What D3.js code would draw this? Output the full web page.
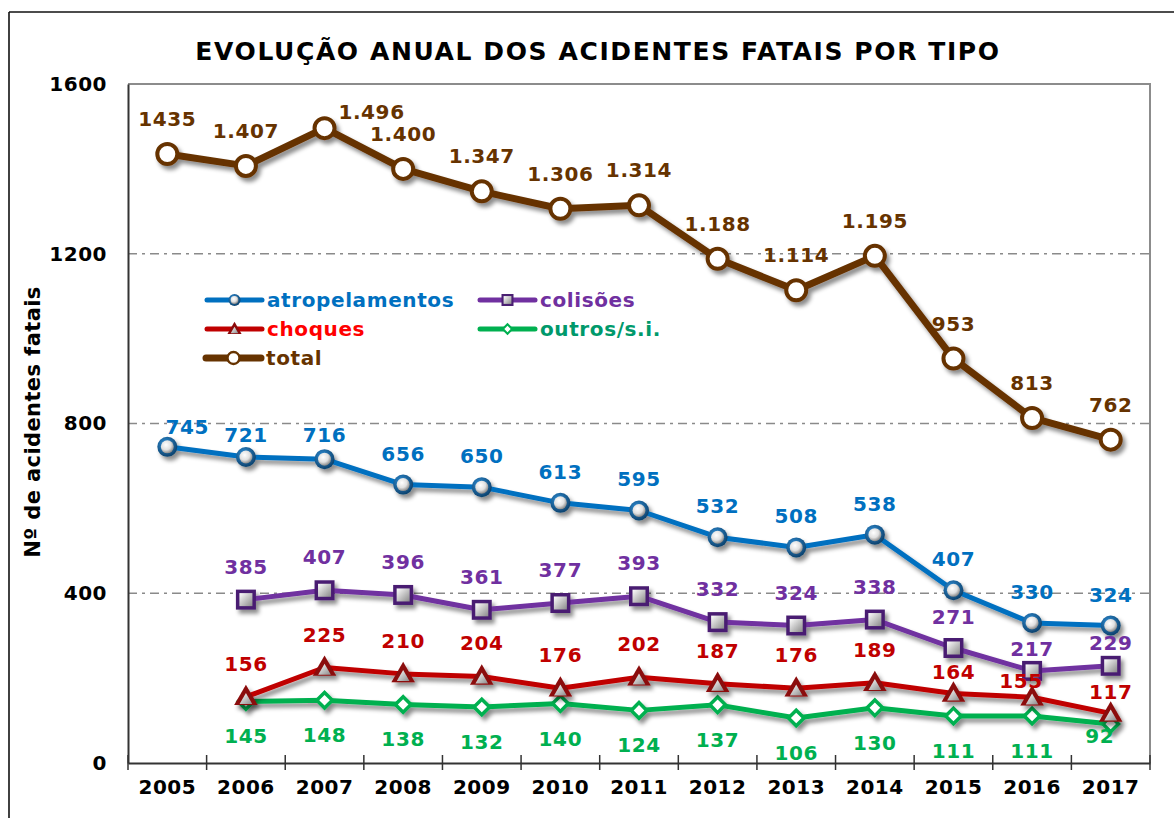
<!DOCTYPE html>
<html><head><meta charset="utf-8">
<script src="https://cdn.jsdelivr.net/npm/d3@7"></script>
<style>
html,body{margin:0;padding:0;background:#fff;}
svg{display:block;font-family:Verdana,"DejaVu Sans",sans-serif;font-weight:bold;}
</style></head>
<body><svg id="chart" width="1174" height="818"></svg>
<script>
// ---------- data ----------
const years = ["2005","2006","2007","2008","2009","2010","2011","2012","2013","2014","2015","2016","2017"];
const yTicks = [0,400,800,1200,1600];
const atropelamentos = [745,721,716,656,650,613,595,532,508,538,407,330,324];
const colisoes = [null,385,407,396,361,377,393,332,324,338,271,217,229];
const choques = [null,156,225,210,204,176,202,187,176,189,164,155,117];
const outros = [null,145,148,138,132,140,124,137,106,130,111,111,92];
const total = [1435,1407,1496,1400,1347,1306,1314,1188,1114,1195,953,813,762];
const totalLabels = ["1435","1.407","1.496","1.400","1.347","1.306","1.314","1.188","1.114","1.195","953","813","762"];
const titleText = "EVOLUÇÃO ANUAL DOS ACIDENTES FATAIS POR TIPO";
const yTitle = "Nº de acidentes fatais";

// ---------- layout ----------
const svg = d3.select("#chart");
const L = 128, R = 1150, T = 84, B = 763;
const x = d3.scaleBand().domain(years).range([L, R]).padding(0);
const cx = d => x(d) + x.bandwidth()/2;
const y = d3.scaleLinear().domain([0,1600]).range([B, T]);

const defs = svg.append("defs");
const f = defs.append("filter").attr("id","shadow").attr("x","-20%").attr("y","-20%").attr("width","140%").attr("height","160%");
f.append("feDropShadow").attr("dx",3).attr("dy",4).attr("stdDeviation",2.2).attr("flood-color","#000").attr("flood-opacity",0.45);

const rg = defs.append("radialGradient").attr("id","sphere").attr("cx","40%").attr("cy","35%").attr("r","70%");
rg.append("stop").attr("offset","0%").attr("stop-color","#ffffff");
rg.append("stop").attr("offset","55%").attr("stop-color","#e0e0e0");
rg.append("stop").attr("offset","100%").attr("stop-color","#7a7a7a");
const lg = defs.append("linearGradient").attr("id","bevel").attr("x1","0").attr("y1","0").attr("x2","1").attr("y2","1");
lg.append("stop").attr("offset","0%").attr("stop-color","#ffffff");
lg.append("stop").attr("offset","100%").attr("stop-color","#8a8a8a");
const rr = defs.append("radialGradient").attr("id","blueRing").attr("cx","40%").attr("cy","35%").attr("r","70%");
rr.append("stop").attr("offset","0%").attr("stop-color","#2f8fd8");
rr.append("stop").attr("offset","100%").attr("stop-color","#0b3d66");

// outer frame
svg.append("line").attr("x1",9).attr("y1",12).attr("x2",1174).attr("y2",12).attr("stroke","#111").attr("stroke-width",1.6);
svg.append("line").attr("x1",9).attr("y1",12).attr("x2",9).attr("y2",818).attr("stroke","#111").attr("stroke-width",1.6);

// title
svg.append("text").attr("x",598).attr("y",51).attr("text-anchor","middle").attr("dominant-baseline","central")
  .attr("font-size",25).attr("letter-spacing",1.6).attr("fill","#000").text(titleText);

// plot border (top/right)
svg.append("path").attr("d",`M${L},${T}H${R}V${B}`).attr("fill","none").attr("stroke","#8c8c8c").attr("stroke-width",2);

// gridlines
svg.append("g").selectAll("line").data(yTicks.filter(v=>v>0 && v<1600)).join("line")
  .attr("x1",L).attr("x2",R).attr("y1",d=>y(d)).attr("y2",d=>y(d))
  .attr("stroke","#8a8a8a").attr("stroke-width",1.5).attr("stroke-dasharray","9,5,3,5");

// y axis
const yAxis = svg.append("g").attr("transform",`translate(${L},0)`)
  .call(d3.axisLeft(y).tickValues(yTicks).tickSize(0).tickPadding(21).tickFormat(d3.format("d")));
yAxis.select(".domain").attr("stroke","#333").attr("stroke-width",2);
yAxis.selectAll("text").attr("font-size",20).attr("letter-spacing",0.5).attr("font-family","Verdana,'DejaVu Sans',sans-serif").attr("font-weight","bold").attr("fill","#000");

// x axis
const xAxis = svg.append("g").attr("transform",`translate(0,${B})`)
  .call(d3.axisBottom(x).tickSize(0).tickPadding(17));
xAxis.select(".domain").attr("stroke","#333").attr("stroke-width",2);
xAxis.selectAll("text").attr("font-size",20).attr("letter-spacing",0.5).attr("font-family","Verdana,'DejaVu Sans',sans-serif").attr("font-weight","bold").attr("fill","#000");
const bounds = years.map(d=>x(d)).concat([R]);
svg.append("g").selectAll("line").data(bounds).join("line")
  .attr("x1",d=>d).attr("x2",d=>d).attr("y1",B-8).attr("y2",B+7).attr("stroke","#333").attr("stroke-width",1.5);

// y title
svg.append("text").attr("transform",`translate(33,422) rotate(-90)`).attr("text-anchor","middle")
  .attr("dominant-baseline","central").attr("font-size",21).attr("letter-spacing",0.4).attr("fill","#000").text(yTitle);

// ---------- markers ----------
function drawMarker(g, type, scale){
  const s = scale || 1;
  if(type==="sphere"){
    g.append("circle").attr("r",10*s).attr("fill","url(#blueRing)");
    g.append("circle").attr("r",6.5*s).attr("fill","url(#sphere)");
  } else if(type==="square"){
    g.append("rect").attr("x",-10*s).attr("y",-10*s).attr("width",20*s).attr("height",20*s).attr("fill","#4a1f72");
    g.append("rect").attr("x",-6.5*s).attr("y",-6.5*s).attr("width",13*s).attr("height",13*s).attr("fill","url(#bevel)");
  } else if(type==="triangle"){
    g.append("path").attr("d",d3.symbol().type(d3.symbolTriangle).size(240*s*s)()).attr("fill","#8b0a0a").attr("transform",`translate(0,${1.5*s})`);
    g.append("path").attr("d",d3.symbol().type(d3.symbolTriangle).size(70*s*s)()).attr("fill","url(#bevel)").attr("transform",`translate(0,${3.5*s})`);
  } else if(type==="diamond"){
    g.append("rect").attr("x",-5.5*s).attr("y",-5.5*s).attr("width",11*s).attr("height",11*s).attr("transform","rotate(45)")
      .attr("fill","#fff").attr("stroke","#00b050").attr("stroke-width",3.5*s);
  } else if(type==="ring"){
    g.append("circle").attr("r",10*s).attr("fill","#fff").attr("stroke","#663300").attr("stroke-width",4*s);
  }
}

const series = [
  {name:"outros/s.i.", values:outros, color:"#00b050", label:"#00b050", legendColor:"#00996b", width:5, marker:"diamond", dy:35, labels:null,
   off:{"2017":[-11,12]}},
  {name:"choques", values:choques, color:"#c00000", label:"#c00000", legendColor:"#ff0000", width:5, marker:"triangle", dy:-33, labels:null,
   off:{"2015":[0,-21],"2016":[-11,-16],"2017":[0,-21]}},
  {name:"colisões", values:colisoes, color:"#7030a0", label:"#7030a0", legendColor:"#7030a0", width:5, marker:"square", dy:-33, labels:null,
   off:{"2015":[0,-31],"2016":[0,-22],"2017":[0,-23]}},
  {name:"atropelamentos", values:atropelamentos, color:"#0070c0", label:"#0070c0", legendColor:"#0070c0", width:5, marker:"sphere", dy:-31, labels:null,
   off:{"2005":[20,-20],"2006":[0,-22],"2007":[0,-24]}},
  {name:"total", values:total, color:"#663300", label:"#663300", legendColor:"#663300", width:7, marker:"ring", dy:-35, labels:totalLabels,
   off:{"2007":[47,-16]}}
];

const ptsOf = s => years.map((yr,i)=>({yr, v:s.values[i], lab: s.labels ? s.labels[i] : String(s.values[i])})).filter(p=>p.v!=null);

series.forEach(s=>{
  const pts = ptsOf(s);
  const g = svg.append("g").attr("filter","url(#shadow)");
  g.append("path").datum(pts).attr("fill","none").attr("stroke",s.color).attr("stroke-width",s.width)
    .attr("stroke-linejoin","round").attr("d",d3.line().x(p=>cx(p.yr)).y(p=>y(p.v)));
  pts.forEach(p=>{
    const m = g.append("g").attr("transform",`translate(${cx(p.yr)},${y(p.v)})`);
    drawMarker(m, s.marker, 1);
  });
});
series.forEach(s=>{
  const pts = ptsOf(s);
  svg.append("g").selectAll("text").data(pts).join("text")
    .attr("x",p=>cx(p.yr) + (s.off[p.yr]?s.off[p.yr][0]:0))
    .attr("y",p=>y(p.v) + (s.off[p.yr]?s.off[p.yr][1]:s.dy))
    .attr("text-anchor","middle").attr("dominant-baseline","central")
    .attr("font-size",20).attr("letter-spacing",0.6).attr("fill",s.label).text(p=>p.lab);
});

// ---------- legend ----------
const legendItems = [
  {s:"atropelamentos", x:207, y:300},
  {s:"colisões", x:480, y:300},
  {s:"choques", x:207, y:329},
  {s:"outros/s.i.", x:480, y:329},
  {s:"total", x:206, y:358}
];
legendItems.forEach(it=>{
  const s = series.find(d=>d.name===it.s);
  const g = svg.append("g").attr("transform",`translate(${it.x},${it.y})`);
  g.append("line").attr("x1",0).attr("x2",55).attr("y1",0).attr("y2",0).attr("stroke",s.color).attr("stroke-width",s.width).attr("stroke-linecap","round");
  const m = g.append("g").attr("transform","translate(27.5,0)");
  drawMarker(m, s.marker, 0.6);
  g.append("text").attr("x",60).attr("y",0).attr("dominant-baseline","central").attr("font-size",20).attr("letter-spacing",0.6)
    .attr("fill",s.legendColor).text(s.name);
});
</script></body></html>
